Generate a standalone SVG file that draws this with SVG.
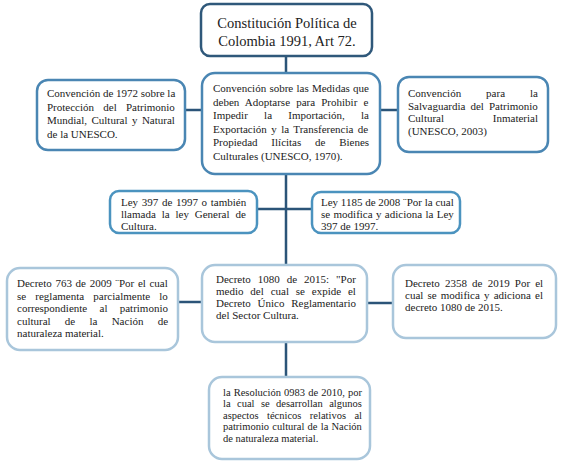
<svg xmlns="http://www.w3.org/2000/svg" width="562" height="467" viewBox="0 0 562 467">
<style>
.bg{fill:#ffffff}
.box{fill:#ffffff;stroke-width:2.5}
.dark{stroke:#2f587a}
.mid{stroke:#4a86b3}
.ley{stroke:#4b93bf}
.light{stroke:#a9c6db}
.t{font-family:"Liberation Serif","Times New Roman",serif;font-size:11px;fill:#222222}
.s{font-size:10.5px}
.title{font-family:"Liberation Serif","Times New Roman",serif;font-size:14.5px;fill:#222222;text-anchor:middle}
.conn{stroke:#2b5478;stroke-width:2.5;fill:none}
</style>
<rect class="bg" x="0" y="0" width="562" height="467"/>
<g id="connectors">
<line class="conn" x1="286" y1="56" x2="286" y2="377"/>
<line class="conn" x1="185" y1="110" x2="202" y2="110"/>
<line class="conn" x1="380" y1="110" x2="398" y2="110"/>
<line class="conn" x1="257" y1="209" x2="312" y2="209"/>
<line class="conn" x1="178" y1="302" x2="202" y2="302"/>
<line class="conn" x1="367" y1="303" x2="393" y2="303"/>
</g>
<g id="n-constitucion">
<rect class="box dark" x="201" y="4" width="171" height="52" rx="9"/>
<text class="title" x="287" y="28">Constitución Política de</text>
<text class="title" x="287" y="46">Colombia 1991, Art 72.</text>
</g>
<g id="n-convencion1970">
<rect class="box mid" x="202" y="73" width="178" height="101" rx="13"/>
<text class="t" x="213" y="92" word-spacing="0.5">Convención sobre las Medidas que</text>
<text class="t" x="213" y="105.5" word-spacing="3.4">deben Adoptarse para Prohibir e</text>
<text class="t" x="213" y="119" word-spacing="13.5">Impedir la Importación, la</text>
<text class="t" x="213" y="132.5" word-spacing="1.7">Exportación y la Transferencia de</text>
<text class="t" x="213" y="146" word-spacing="11">Propiedad Ilícitas de Bienes</text>
<text class="t" x="213" y="159.5">Culturales (UNESCO, 1970).</text>
</g>
<g id="n-convencion1972">
<rect class="box mid" x="37" y="80" width="148" height="70" rx="11"/>
<text class="t" x="47" y="97">Convención de 1972 sobre la</text>
<text class="t" x="47" y="110.5" word-spacing="6.5">Protección del Patrimonio</text>
<text class="t" x="47" y="124" word-spacing="1.7">Mundial, Cultural y Natural</text>
<text class="t" x="47" y="137.5">de la UNESCO.</text>
</g>
<g id="n-convencion2003">
<rect class="box mid" x="398" y="77" width="150" height="75" rx="11"/>
<text class="t" x="408" y="97" word-spacing="22.2">Convención para la</text>
<text class="t" x="408" y="109.5" word-spacing="2.3">Salvaguardia del Patrimonio</text>
<text class="t" x="408" y="122" word-spacing="46">Cultural Inmaterial</text>
<text class="t" x="408" y="134.5">(UNESCO, 2003)</text>
</g>
<g id="n-ley397">
<rect class="box ley" x="110" y="191" width="147" height="42" rx="9"/>
<text class="t" x="121" y="206" word-spacing="0.9">Ley 397 de 1997 o también</text>
<text class="t" x="121" y="218" word-spacing="3.1">llamada la ley General de</text>
<text class="t" x="121" y="230">Cultura.</text>
</g>
<g id="n-ley1185">
<rect class="box ley" x="312" y="192" width="148" height="41" rx="9"/>
<text class="t" x="321" y="206">Ley 1185 de 2008 ¨Por la cual</text>
<text class="t" x="321" y="218" word-spacing="0.6">se modifica y adiciona la Ley</text>
<text class="t" x="321" y="230">397 de 1997.</text>
</g>
<g id="n-decreto763">
<rect class="box light" x="7" y="268" width="171" height="82" rx="13"/>
<text class="t" x="17" y="287" word-spacing="0.9">Decreto 763 de 2009 ¨Por el cual</text>
<text class="t" x="17" y="299.5" word-spacing="6.4">se reglamenta parcialmente lo</text>
<text class="t" x="17" y="312" word-spacing="9.5">correspondiente al patrimonio</text>
<text class="t" x="17" y="324.5" word-spacing="11.5">cultural de la Nación de</text>
<text class="t" x="17" y="337">naturaleza material.</text>
</g>
<g id="n-decreto1080">
<rect class="box light" x="202" y="265" width="165" height="77" rx="13"/>
<text class="t" x="216" y="283" word-spacing="4.2">Decreto 1080 de 2015: "Por</text>
<text class="t" x="216" y="295" word-spacing="4.1">medio del cual se expide el</text>
<text class="t" x="216" y="307" word-spacing="4">Decreto Único Reglamentario</text>
<text class="t" x="216" y="319">del Sector Cultura.</text>
</g>
<g id="n-decreto2358">
<rect class="box light" x="393" y="265" width="163" height="73" rx="13"/>
<text class="t" x="405" y="287" word-spacing="2.4">Decreto 2358 de 2019 Por el</text>
<text class="t" x="405" y="299" word-spacing="1.4">cual se modifica y adiciona el</text>
<text class="t" x="405" y="311">decreto 1080 de 2015.</text>
</g>
<g id="n-resolucion0983">
<rect class="box light" x="209" y="377" width="161" height="82" rx="13"/>
<text class="t s" x="223" y="395.5" word-spacing="0.5">la Resolución 0983 de 2010, por</text>
<text class="t s" x="223" y="407" word-spacing="3.8">la cual se desarrollan algunos</text>
<text class="t s" x="223" y="418.5" word-spacing="5.8">aspectos técnicos relativos al</text>
<text class="t s" x="223" y="430" word-spacing="0.6">patrimonio cultural de la Nación</text>
<text class="t s" x="223" y="441.5">de naturaleza material.</text>
</g>
</svg>
